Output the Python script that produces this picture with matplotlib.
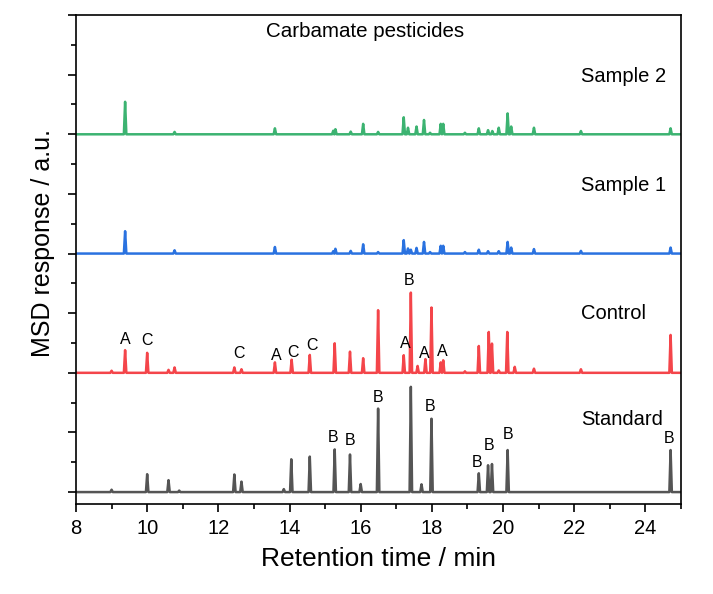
import matplotlib.pyplot as plt
from matplotlib.ticker import MultipleLocator

plt.rcParams['font.family'] = ['Liberation Sans', 'DejaVu Sans']

# retention times (min) and peak heights (a.u.)
std_t = [9.0, 10.0, 10.6, 10.9, 12.45, 12.65, 13.84, 14.05, 14.57, 15.27, 15.70, 16.0,
         16.49, 17.41, 17.71, 17.99, 19.32, 19.58, 19.69, 20.13, 24.71]
std_h = [0.08, 0.6, 0.4, 0.05, 0.59, 0.35, 0.1, 1.1, 1.19, 1.43, 1.26, 0.27,
         2.8, 3.53, 0.26, 2.46, 0.63, 0.9, 0.94, 1.41, 1.41]

ctl_t = [9.0, 9.38, 10.0, 10.6, 10.77, 12.45, 12.65, 13.59, 14.06, 14.57, 15.27, 15.70,
         16.07, 16.49, 17.21, 17.41, 17.6, 17.82, 17.99, 18.25, 18.32, 18.93, 19.32,
         19.6, 19.69, 19.88, 20.12, 20.33, 20.87, 22.19, 24.71]
ctl_h = [0.07, 0.76, 0.67, 0.1, 0.18, 0.18, 0.12, 0.35, 0.44, 0.6, 0.99, 0.71,
         0.49, 2.1, 0.59, 2.69, 0.23, 0.46, 2.19, 0.35, 0.42, 0.05, 0.9,
         1.37, 0.98, 0.08, 1.37, 0.2, 0.14, 0.12, 1.27]

s1_t = [9.38, 10.77, 13.59, 15.23, 15.29, 15.72, 16.07, 16.49, 17.21, 17.33, 17.41,
        17.57, 17.78, 17.95, 18.25, 18.32, 18.93, 19.32, 19.58, 19.88, 20.13, 20.23,
        20.87, 22.19, 24.71]
s1_h = [0.75, 0.11, 0.22, 0.08, 0.16, 0.09, 0.31, 0.05, 0.45, 0.17, 0.13,
        0.19, 0.39, 0.05, 0.26, 0.26, 0.05, 0.13, 0.08, 0.08, 0.39, 0.2,
        0.15, 0.09, 0.2]

s2_t = [9.38, 10.77, 13.59, 15.23, 15.29, 15.72, 16.07, 16.49, 17.21, 17.33, 17.57,
        17.78, 17.95, 18.25, 18.32, 18.93, 19.32, 19.58, 19.7, 19.88, 20.13, 20.23,
        20.87, 22.19, 24.71]
s2_h = [1.09, 0.08, 0.2, 0.12, 0.17, 0.09, 0.35, 0.08, 0.57, 0.22, 0.26,
        0.48, 0.05, 0.35, 0.35, 0.05, 0.2, 0.14, 0.11, 0.22, 0.7, 0.26,
        0.22, 0.11, 0.2]

names = ['Standard', 'Control', 'Sample 1', 'Sample 2']
colors = ['#555555', '#f4454a', '#2a72e0', '#3cb371']

# peak labels: (time, height above trace baseline, letter)
ctl_labels = [(9.38, 1.13, 'A'), (10.0, 1.09, 'C'), (12.58, 0.65, 'C'), (13.64, 0.59, 'A'),
              (14.1, 0.67, 'C'), (14.64, 0.92, 'C'), (17.24, 0.98, 'A'), (17.36, 3.08, 'B'),
              (17.8, 0.65, 'A'), (18.29, 0.73, 'A')]
std_labels = [(15.23, 1.83, 'B'), (15.70, 1.72, 'B'), (16.49, 3.17, 'B'), (17.94, 2.86, 'B'),
              (19.28, 0.98, 'B'), (19.61, 1.57, 'B'), (20.13, 1.94, 'B'), (24.67, 1.8, 'B')]


def trace(times, heights, w=0.035):
    xs = [8.0]
    ys = [0.0]
    for t, h in zip(times, heights):
        xs += [t - w, t, t + w]
        ys += [0.0, h, 0.0]
    xs.append(25.0)
    ys.append(0.0)
    return xs, ys


fig = plt.figure(figsize=(7.13, 5.94), dpi=100)
ax = fig.add_axes([0.1066, 0.1515, 0.8484, 0.8232])

series = [(std_t, std_h), (ctl_t, ctl_h), (s1_t, s1_h), (s2_t, s2_h)]
for i, (t, h) in enumerate(series):
    xs, ys = trace(t, h)
    off = 4 * i
    ax.plot(xs, [y + off for y in ys], color=colors[i], lw=1.8)
    ax.text(22.19, off + [2.45, 2.0, 2.28, 1.94][i], names[i], fontsize=14.5,
            va='center', ha='left')

for t, y, s in ctl_labels:
    ax.text(t, 4 + y, s, fontsize=11.5, ha='center', va='center')
for t, y, s in std_labels:
    ax.text(t, y, s, fontsize=11.5, ha='center', va='center')

ax.text(13.33, 15.44, 'Carbamate pesticides', fontsize=14.8, ha='left', va='center')

ax.set_xlim(8, 25)
ax.set_ylim(-0.4, 16)
ax.xaxis.set_major_locator(MultipleLocator(2))
ax.xaxis.set_minor_locator(MultipleLocator(1))
ax.yaxis.set_major_locator(MultipleLocator(2))
ax.yaxis.set_minor_locator(MultipleLocator(1))
ax.set_yticklabels([])
ax.tick_params(which='major', length=6, width=1.2, labelsize=14.5, pad=5)
ax.tick_params(which='minor', length=3.5, width=1.2)
for sp in ax.spines.values():
    sp.set_linewidth(1.2)

ax.set_xlabel('Retention time / min', fontsize=19, labelpad=6)
ax.set_ylabel('MSD response / a.u.', fontsize=18)
ax.yaxis.set_label_coords(-0.035, 0.534)

fig.savefig('out.png')
